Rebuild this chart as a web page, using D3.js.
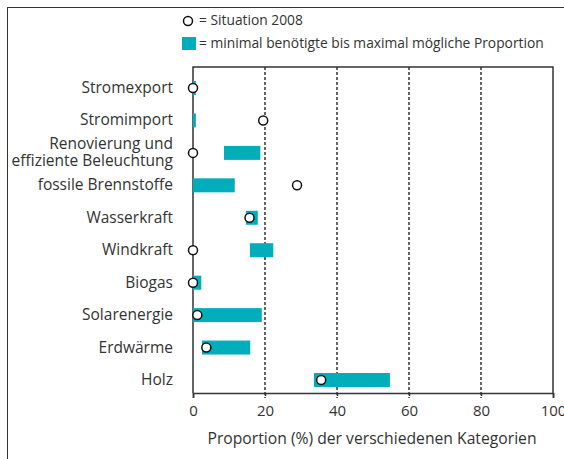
<!DOCTYPE html>
<html>
<head>
<meta charset="utf-8">
<script src="https://cdn.jsdelivr.net/npm/d3@7"></script>
<style>
body{margin:0;background:#fff}
text{font-family:"Open Sans",sans-serif;fill:#333}
</style>
</head>
<body>
<svg id="main_svg" width="564" height="459"></svg>
<script>
// categories, top to bottom
const categories = ["Stromexport","Stromimport","Renovierung und|effiziente Beleuchtung","fossile Brennstoffe","Wasserkraft","Windkraft","Biogas","Solarenergie","Erdwärme","Holz"]
// min needed .. max possible proportion (%)
const range_min = [0, 0, 8.6, 0, 14.7, 15.8, 0, 0, 2.5, 33.6]
const range_max = [0.8, 0.8, 18.7, 11.6, 18, 22.3, 2.3, 19.1, 15.9, 54.7]
// situation 2008 (%)
const situation = [0, 19.5, 0, 28.9, 15.7, 0, 0, 1.2, 3.7, 35.6]
const x_ticks = [0, 20, 40, 60, 80, 100]

const teal = "#00aebb"
const svg = d3.select("#main_svg")

const x = d3.scaleLinear().domain([0,100]).range([193,553])
const y = d3.scalePoint().domain(categories).range([88,380])
const top_y = 67, bot_y = 393

// outer frame
svg.append("rect").attr("x",7.5).attr("y",7.5).attr("width",600).attr("height",500)
    .attr("fill","none").attr("stroke","#333").attr("stroke-width",1)

// dashed grid lines
svg.selectAll(".grid").data(x_ticks.slice(1,-1)).enter()
    .append("line")
    .attr("x1",d=>x(d)).attr("x2",d=>x(d))
    .attr("y1",top_y).attr("y2",bot_y+5)
    .attr("stroke","#333").attr("stroke-width",1.5).attr("stroke-dasharray","3,2")

// plot box (top, left, right)
svg.append("path")
    .attr("d",`M${x(0)},${bot_y}V${top_y}H${x(100)}V${bot_y}`)
    .attr("fill","none").attr("stroke","#333").attr("stroke-width",1.5)

// bars
svg.selectAll(".bar").data(categories).enter()
    .append("rect")
    .attr("x",(d,i)=>x(range_min[i]))
    .attr("width",(d,i)=>x(range_max[i])-x(range_min[i]))
    .attr("y",d=>y(d)-7)
    .attr("height",14)
    .attr("fill",teal)

// circles
svg.selectAll(".pt").data(categories).enter()
    .append("circle")
    .attr("cx",(d,i)=>x(situation[i]))
    .attr("cy",d=>y(d))
    .attr("r",4.5)
    .attr("fill","#fff").attr("stroke","#111").attr("stroke-width",1.5)

// category labels
const lab = svg.selectAll(".lab").data(categories).enter()
    .append("text")
    .attr("x",173)
    .attr("y",d=>y(d))
    .attr("text-anchor","end")
    .attr("font-size",15.5)
lab.each(function(d){
    const parts = d.split("|")
    const t = d3.select(this)
    parts.forEach((p,k)=>{
        t.append("tspan").attr("x",173)
            .attr("y",y(d)+5+(k-(parts.length-1)/2)*17)
            .text(p)
    })
})

// x axis
const axis = svg.append("g").attr("transform",`translate(0,${bot_y})`)
    .call(d3.axisBottom(x).tickValues(x_ticks).tickSize(5).tickFormat(d3.format("d")))
axis.select(".domain").attr("stroke","#333").attr("stroke-width",1.5)
axis.selectAll(".tick line").attr("stroke","#333").attr("stroke-width",1.5)
    .attr("stroke-dasharray",d=>(d==0||d==100)?null:"3,2")
axis.selectAll(".tick text").attr("font-family","\"Open Sans\",sans-serif")
    .attr("font-size",15).attr("fill","#333").attr("dy","1em")

svg.append("text").attr("x",372).attr("y",444).attr("text-anchor","middle")
    .attr("font-size",15.7).text("Proportion (%) der verschiedenen Kategorien")

// legend
svg.append("circle").attr("cx",188).attr("cy",21).attr("r",4.5)
    .attr("fill","#fff").attr("stroke","#111").attr("stroke-width",1.5)
svg.append("text").attr("x",199).attr("y",25).attr("font-size",13.8).text("= Situation 2008")
svg.append("rect").attr("x",182).attr("y",37).attr("width",14).attr("height",13).attr("fill",teal)
svg.append("text").attr("x",199).attr("y",48).attr("font-size",13.8).text("= minimal benötigte bis maximal mögliche Proportion")
</script>
</body>
</html>
